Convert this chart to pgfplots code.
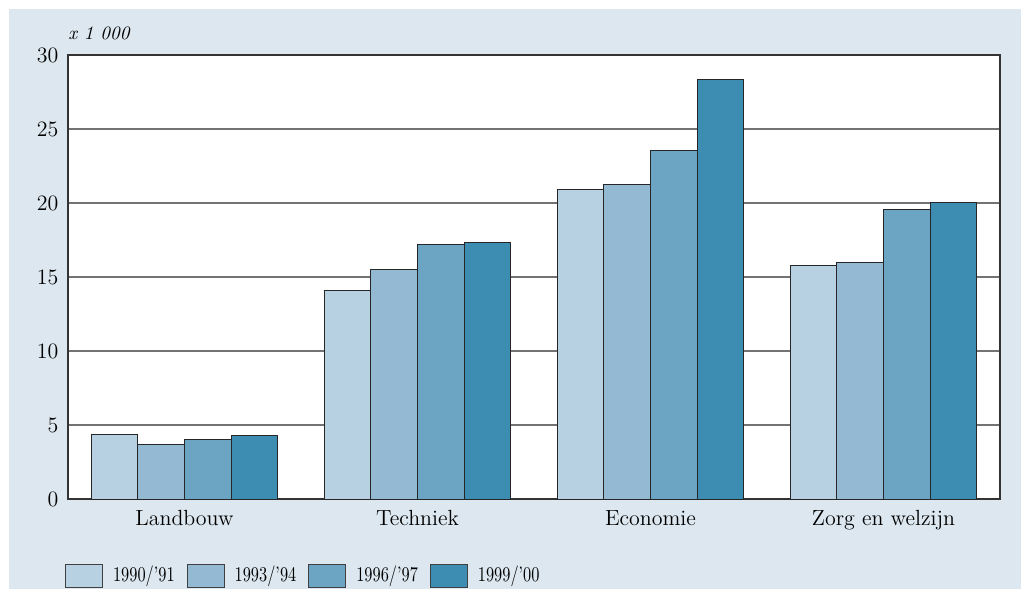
\documentclass[border=0pt]{standalone}
\usepackage{graphicx}
\usepackage{pgfplots}
\pgfplotsset{compat=1.18}
\definecolor{bgblue}{RGB}{220,231,239}
\definecolor{c1}{RGB}{183,209,227}
\definecolor{c2}{RGB}{147,185,211}
\definecolor{c3}{RGB}{108,164,195}
\definecolor{c4}{RGB}{61,140,178}
\newcommand{\leg}[1]{\scalebox{0.78}[1]{#1}}
\begin{document}
\fontsize{11}{13}\selectfont
\begin{tikzpicture}[x=0.5bp,y=0.5bp]
% page size 1021 x 589 px, 1 px = 0.5bp
\fill[white] (0,0) rectangle (1021,589);
\fill[bgblue] (9,0) rectangle (1021,580);
\begin{axis}[
    name=ax,
    at={(68bp*0.5,90bp*0.5)}, anchor=south west,
    scale only axis,
    width=466bp, height=222bp,
    ybar=0pt,
    bar width=0.2,
    xmin=-0.5, xmax=3.5,
    ymin=0, ymax=30,
    xtick=data,
    xticklabels={Landbouw,Techniek,Economie,Zorg en welzijn},
    ytick={0,5,...,30},
    major tick length=0pt,
    ymajorgrids,
    grid style={black!55, line width=0.8pt},
    axis line style={black!80, line width=0.6pt},
    axis background/.style={fill=white},
    tick label style={font=\fontsize{11}{13}\selectfont},
    /pgf/number format/assume math mode=true,
    xticklabel style={yshift=-2bp},
    yticklabel style={xshift=-1bp},
    legend columns=4,
    legend style={at={(axis description cs:-0.010,-0.132)}, anchor=north west,
        draw=none, fill=none, font=\fontsize{10.5}{13}\selectfont,
        /tikz/every odd column/.append style={column sep=3bp},
        /tikz/every even column/.append style={column sep=4bp}},
    legend image code/.code={\draw[#1,draw=black!75,line width=0.5pt] (0bp,-6bp) rectangle (18.5bp,5.5bp);},
    every axis plot/.append style={draw=black!85, line width=0.5pt},
]
\addplot[fill=c1] coordinates {(0,4.39) (1,14.12) (2,20.88) (3,15.77)};
\addplot[fill=c2] coordinates {(0,3.65) (1,15.52) (2,21.26) (3,15.97)};
\addplot[fill=c3] coordinates {(0,3.99) (1,17.20) (2,23.56) (3,19.57)};
\addplot[fill=c4] coordinates {(0,4.26) (1,17.30) (2,28.36) (3,20.02)};
\legend{\leg{1990/'91},\leg{1993/'94},\leg{1996/'97},\leg{1999/'00}}
\end{axis}
\node[anchor=south west, inner sep=0pt, font=\fontsize{9.5}{11}\selectfont\itshape]
    at (ax.north west) [yshift=7.5bp] {x 1 000};
\end{tikzpicture}
\end{document}
